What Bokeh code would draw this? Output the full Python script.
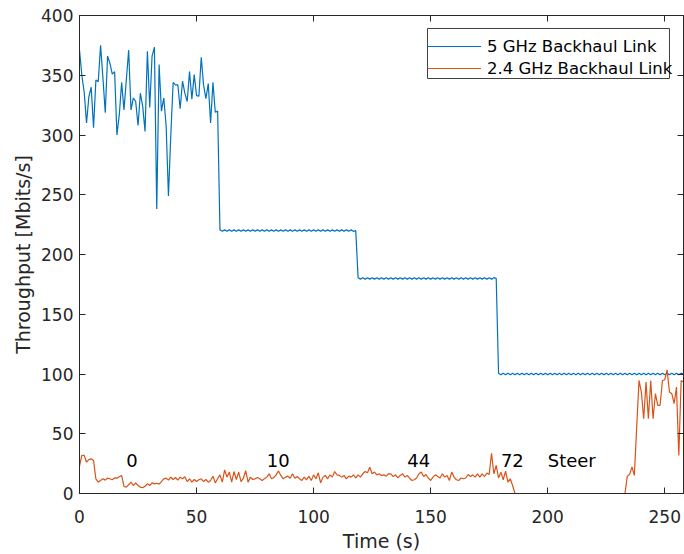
from bokeh.plotting import figure
from bokeh.models import Legend, LegendItem, LinearAxis, FixedTicker, Range1d, BoxAnnotation
from bokeh.core.properties import value
from bokeh.embed import file_html
from bokeh.resources import INLINE

# ---------------- data ----------------
time_s = list(range(0, 259))

ghz5_noisy = [371, 350, 336, 310, 332, 340, 306, 346, 344.5, 375,
              348, 318.6, 366, 360, 351, 353, 300, 317, 344, 321,
              346, 371, 321, 331, 328, 308, 335, 324, 303, 370,
              323, 366, 373.6, 238, 359, 320, 331, 308, 249, 300,
              344, 342, 342, 322, 345, 335, 328, 353, 330, 350.5,
              333, 332.5, 365, 341.7, 330.5, 343, 310, 344, 319, 320]
ghz5_220 = [220.6, 219.4, 220.6, 219.4, 220.6, 219.4, 220.6, 219.4, 220.6, 219.4,
            220.6, 219.4, 220.6, 219.4, 220.6, 219.4, 220.6, 219.4, 220.6, 219.4,
            220.6, 219.4, 220.6, 219.4, 220.6, 219.4, 220.6, 219.4, 220.6, 219.4,
            220.6, 219.4, 220.6, 219.4, 220.6, 219.4, 220.6, 219.4, 220.6, 219.4,
            220.6, 219.4, 220.6, 219.4, 220.6, 219.4, 220.6, 219.4, 220.6, 219.4,
            220.6, 219.4, 220.6, 219.4, 220.6, 219.4, 220.6, 219.4, 220.0]
ghz5_180 = [180.6, 179.4, 180.6, 179.4, 180.6, 179.4, 180.6, 179.4, 180.6, 179.4,
            180.6, 179.4, 180.6, 179.4, 180.6, 179.4, 180.6, 179.4, 180.6, 179.4,
            180.6, 179.4, 180.6, 179.4, 180.6, 179.4, 180.6, 179.4, 180.6, 179.4,
            180.6, 179.4, 180.6, 179.4, 180.6, 179.4, 180.6, 179.4, 180.6, 179.4,
            180.6, 179.4, 180.6, 179.4, 180.6, 179.4, 180.6, 179.4, 180.6, 179.4,
            180.6, 179.4, 180.6, 179.4, 180.6, 179.4, 180.6, 179.4, 180.6, 180.0]
ghz5_100 = [100.7, 99.3, 100.7, 99.3, 100.7, 99.3, 100.7, 99.3, 100.7, 99.3,
            100.7, 99.3, 100.7, 99.3, 100.7, 99.3, 100.7, 99.3, 100.7, 99.3,
            100.7, 99.3, 100.7, 99.3, 100.7, 99.3, 100.7, 99.3, 100.7, 99.3,
            100.7, 99.3, 100.7, 99.3, 100.7, 99.3, 100.7, 99.3, 100.7, 99.3,
            100.7, 99.3, 100.7, 99.3, 100.7, 99.3, 100.7, 99.3, 100.7, 99.3,
            100.7, 99.3, 100.7, 99.3, 100.7, 99.3, 100.7, 99.3, 100.7, 99.3,
            100.7, 99.3, 100.7, 99.3, 100.7, 99.3, 100.7, 99.3, 100.7, 99.3,
            100.7, 99.3, 100.7, 99.3, 100.7, 99.3, 100.7, 99.3, 100.7, 100.0]
ghz5 = ghz5_noisy + ghz5_220 + ghz5_180 + ghz5_100

ghz24_active = [22.9, 31.8, 32, 26.2, 28.4, 29, 27.6, 12.3, 9.5, 10.9,
                12.3, 11.2, 13, 12.3, 11.5, 13, 12.8, 14, 15.1, 5.9,
                5.3, 7.3, 9.5, 6.7, 8.9, 6.7, 5.3, 4.8, 6.1, 8.1,
                6.7, 8.9, 8.1, 8.6, 7.8, 10, 12.3, 12.8, 11.2, 13.7,
                11.7, 13.4, 11.2, 13.7, 12.3, 14, 10, 12.3, 9.5, 11.7,
                10, 11.5, 12.3, 10, 11.7, 9.5, 10.9, 14.5, 8.9, 12.3,
                15.6, 9.5, 19.7, 13.7, 17.9, 9.5, 18.4, 11.7, 17.9, 10,
                12.8, 19.2, 9.5, 13.7, 11.7, 12.3, 13.4, 12.3, 10.9, 12.3,
                13.7, 16.5, 12.3, 13.4, 15.6, 18.9, 15.1, 12.3, 13.7, 14.5,
                12.8, 16.5, 12.8, 14.2, 12.3, 10.9, 13.7, 11.5, 14.5, 10.9,
                15.6, 12.3, 17.3, 8.9, 13.7, 15.1, 12.3, 15.6, 13.7, 18.4,
                15.6, 15.1, 13.7, 15.1, 12.3, 14.5, 13.7, 15.6, 13, 15.6,
                13.7, 16.5, 18.4, 17.3, 22.0, 16.5, 17.9, 15.6, 16.5, 15.1,
                15.6, 14.5, 16.5, 16.5, 14.2, 15.6, 13, 15.1, 16.5, 13.7,
                15.1, 12.8, 10.9, 11.5, 13, 16.5, 17.9, 14.2, 15.9, 13,
                10.9, 13.7, 15.6, 14.2, 13, 16.5, 13.7, 15.1, 10.9, 17.9,
                13.7, 11.5, 10.9, 13, 12.3, 13, 15.9, 14.2, 15.6, 13.7,
                16.5, 13.7, 16.5, 14.2, 17.1, 15.9, 33.7, 16.5, 23.5, 13,
                17.9, 11.5, 18.7, 9.5, 12.3, 6.7]
ghz24_steer = [0, 0, 0, 0, 0, 0, 0, 0, 0, 0, 0, 0, 0, 0, 0, 0,
               0, 0, 0, 0, 0, 0, 0, 0, 0, 0, 0, 0, 0, 0, 0, 0,
               0, 0, 0, 0, 0, 0, 0, 0, 0, 0, 0, 0, 0, 0, 0, 0]
ghz24_after = [14.5, 16, 22.3, 15.1, 55, 94.6, 84.9, 62.5, 93.2, 62.5,
               94.6, 62.5, 83.5, 73.8, 73.8, 94.6, 95.2, 103.5, 84.9, 83.5,
               75.2, 89.1, 31.8, 94.6, 93.2]
ghz24 = ghz24_active + ghz24_steer + ghz24_after

ann_x = [20, 80, 140, 180, 200]
ann_y = [28, 28, 28, 28, 28]
ann_text = ["0", "10", "44", "72", "Steer"]

x_ticks = [0, 50, 100, 150, 200, 250]
y_ticks = [0, 50, 100, 150, 200, 250, 300, 350, 400]

series_names = ["5 GHz Backhaul Link", "2.4 GHz Backhaul Link"]
series_colors = ["#0072BD", "#D95319"]

# ---------------- figure ----------------
FONT = "DejaVu Sans"
AX = "#262626"

p = figure(width=684, height=554, output_backend="svg", toolbar_location=None,
           x_range=Range1d(0, 258), y_range=Range1d(0, 400),
           min_border_left=79, min_border_right=1, min_border_top=15, min_border_bottom=61)
p.frame_width = 604
p.frame_height = 478
p.grid.visible = False
p.outline_line_color = AX
p.outline_line_width = 1
p.background_fill_color = "white"
p.border_fill_color = "white"

r5 = p.line(time_s, ghz5, line_color=series_colors[0], line_width=1.2)
r24 = p.line(time_s, ghz24, line_color=series_colors[1], line_width=1.2)

p.text(x=ann_x, y=ann_y, text=ann_text, text_font=value(FONT), text_font_size="18px",
       text_align="left", text_baseline="middle", text_color="black")

for ax, ticks in ((p.xaxis[0], x_ticks), (p.yaxis[0], y_ticks)):
    ax.ticker = FixedTicker(ticks=ticks)
    ax.major_tick_in = 6
    ax.major_tick_out = 0
    ax.minor_tick_line_color = None
    ax.axis_line_color = AX
    ax.major_tick_line_color = AX
    ax.major_label_text_color = AX
    ax.major_label_text_font = FONT
    ax.major_label_text_font_size = "17px"
    ax.axis_label_text_font = FONT
    ax.axis_label_text_font_size = "19px"
    ax.axis_label_text_font_style = "normal"
    ax.axis_label_text_color = AX

p.xaxis[0].axis_label = "Time (s)"
p.yaxis[0].axis_label = "Throughput [Mbits/s]"
p.xaxis[0].major_label_standoff = 16
p.yaxis[0].major_label_standoff = 6
p.xaxis[0].axis_label_standoff = 4
p.yaxis[0].axis_label_standoff = 4

for loc, ticks in (("right", y_ticks), ("above", x_ticks)):
    a = LinearAxis(ticker=FixedTicker(ticks=ticks), major_tick_in=6, major_tick_out=0,
                   minor_tick_line_color=None, axis_line_color=AX, major_tick_line_color=AX,
                   major_label_overrides={t: "" for t in ticks},
                   major_label_text_font_size="1px", major_label_standoff=0)
    p.add_layout(a, loc)

# legend frame (screen units, relative to the plot frame's bottom-left) and one legend per entry
frame_box = BoxAnnotation(left=348, right=590, top=465, bottom=415,
                          left_units="screen", right_units="screen",
                          top_units="screen", bottom_units="screen",
                          fill_color="white", fill_alpha=1,
                          line_color="#404040", line_width=1, line_alpha=1)
p.add_layout(frame_box)

for k, (rend, ypos) in enumerate(((r5, 437), (r24, 415))):
    lg = Legend(items=[LegendItem(label=series_names[k], renderers=[rend])],
                location=(348, ypos), label_text_font=FONT, label_text_font_size="16.5px",
                label_text_color="black", glyph_width=54, glyph_height=20, label_height=20,
                label_standoff=6, padding=4, spacing=0, margin=0,
                border_line_color=None, background_fill_alpha=0)
    p.add_layout(lg, "center")

open("out.html", "w").write(file_html(p, INLINE))
